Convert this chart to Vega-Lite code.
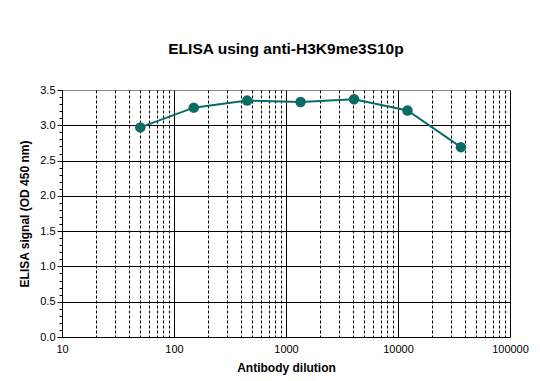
{
  "$schema": "https://vega.github.io/schema/vega-lite/v6.json",
  "width": 448,
  "height": 247,
  "autosize": "none",
  "padding": {"left": 62, "top": 90, "right": 30, "bottom": 44},
  "background": "white",
  "config": {
    "font": "Liberation Sans",
    "view": {"stroke": "#888888", "strokeWidth": 1}
  },
  "title": {
    "text": "ELISA using anti-H3K9me3S10p",
    "font": "Liberation Sans",
    "fontSize": 15.5,
    "fontWeight": "bold",
    "color": "black",
    "anchor": "middle",
    "offset": 27
  },
  "data": {
    "values": [
      {"dilution": 50, "od": 2.97},
      {"dilution": 150, "od": 3.25},
      {"dilution": 450, "od": 3.35},
      {"dilution": 1350, "od": 3.33},
      {"dilution": 4050, "od": 3.37},
      {"dilution": 12150, "od": 3.21},
      {"dilution": 36450, "od": 2.69}
    ]
  },
  "encoding": {
    "x": {
      "field": "dilution",
      "type": "quantitative",
      "scale": {"type": "log", "domain": [10, 100000], "nice": false},
      "axis": {
        "title": "Antibody  dilution",
        "titleFont": "Liberation Sans",
        "titleFontSize": 12,
        "titleFontWeight": "bold",
        "titleColor": "black",
        "titlePadding": 8,
        "values": [10,20,30,40,50,60,70,80,90,100,200,300,400,500,600,700,800,900,1000,2000,3000,4000,5000,6000,7000,8000,9000,10000,20000,30000,40000,50000,60000,70000,80000,90000,100000],
        "labelExpr": "indexof([10,100,1000,10000,100000], datum.value) >= 0 ? datum.value + '' : ''",
        "labelFontSize": 11,
        "labelColor": "black",
        "labelPadding": 6,
        "labelFlush": false,
        "labelOverlap": false,
        "ticks": false,
        "domainColor": "black",
        "grid": true,
        "gridColor": "black",
        "gridOpacity": 1,
        "gridWidth": 1,
        "gridDash": {
          "condition": {"test": "indexof([10,100,1000,10000,100000], datum.value) >= 0", "value": []},
          "value": [3, 2]
        }
      }
    },
    "y": {
      "field": "od",
      "type": "quantitative",
      "scale": {"domain": [0, 3.5], "nice": false},
      "axis": {
        "title": "ELISA  signal (OD 450 nm)",
        "titleFont": "Liberation Sans",
        "titleFontSize": 12,
        "titleFontWeight": "bold",
        "titleColor": "black",
        "titlePadding": 8,
        "values": [0,0.1,0.2,0.3,0.4,0.5,0.6,0.7,0.8,0.9,1.0,1.1,1.2,1.3,1.4,1.5,1.6,1.7,1.8,1.9,2.0,2.1,2.2,2.3,2.4,2.5,2.6,2.7,2.8,2.9,3.0,3.1,3.2,3.3,3.4,3.5],
        "labelExpr": "abs(datum.value*2 - round(datum.value*2)) < 0.001 ? format(datum.value, '.1f') : ''",
        "labelFontSize": 11,
        "labelColor": "black",
        "labelPadding": 2,
        "labelOverlap": false,
        "tickColor": "black",
        "tickSize": {
          "condition": {"test": "abs(datum.value*2 - round(datum.value*2)) < 0.001", "value": 5},
          "value": 3
        },
        "domainColor": "black",
        "grid": true,
        "gridColor": "black",
        "gridWidth": 1,
        "gridOpacity": {
          "condition": {"test": "abs(datum.value*2 - round(datum.value*2)) < 0.001 && datum.value > 0 && datum.value < 3.5", "value": 1},
          "value": 0
        }
      }
    }
  },
  "layer": [
    {"mark": {"type": "line", "color": "#0a6b67", "strokeWidth": 2}},
    {"mark": {"type": "point", "filled": true, "color": "#0a6b67", "opacity": 1, "size": 110}}
  ]
}
